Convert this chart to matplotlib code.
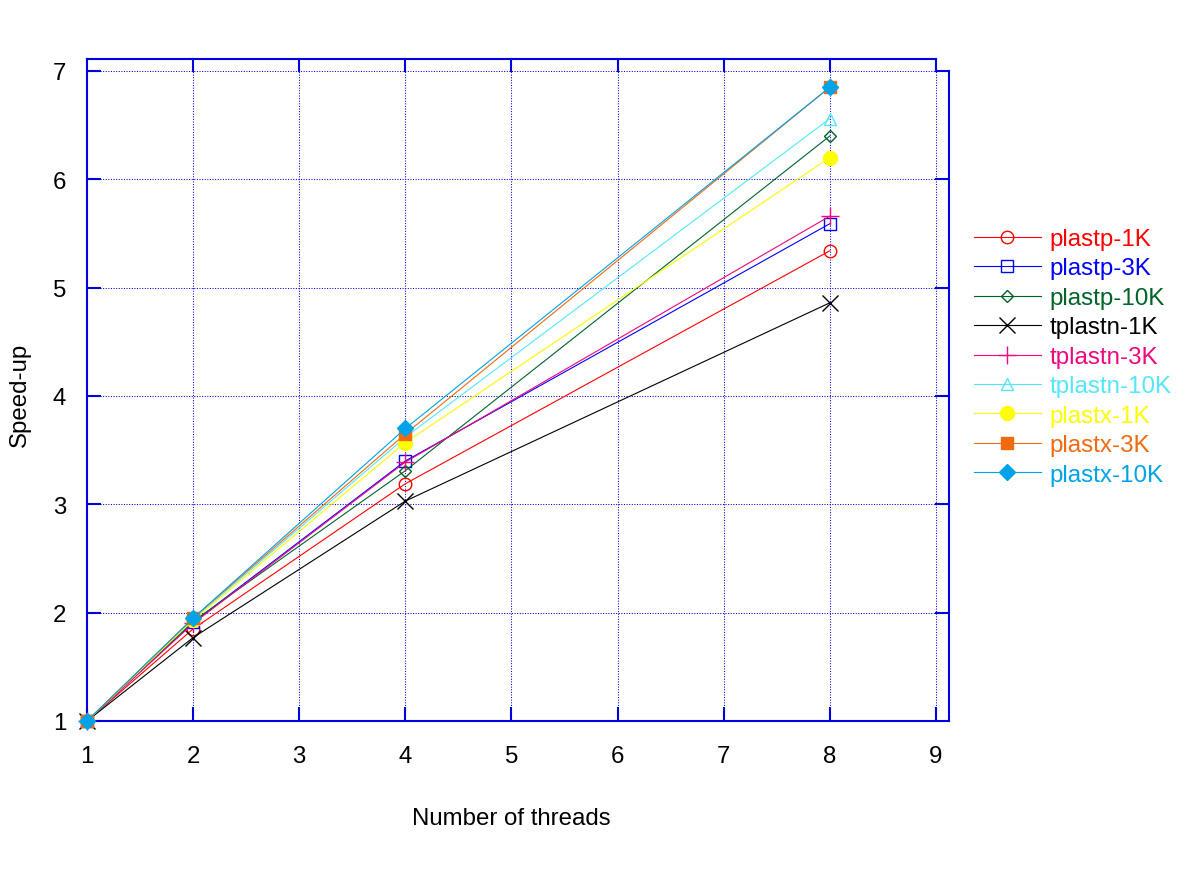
import matplotlib
matplotlib.use("Agg")
from matplotlib import pyplot as plt

plt.rcParams["font.family"] = ["Liberation Sans", "DejaVu Sans"]

threads = [1, 2, 4, 8]

series_names = [
    "plastp-1K", "plastp-3K", "plastp-10K",
    "tplastn-1K", "tplastn-3K", "tplastn-10K",
    "plastx-1K", "plastx-3K", "plastx-10K",
]
plastp_1k = [1.0, 1.85, 3.19, 5.34]
plastp_3k = [1.0, 1.91, 3.40, 5.59]
plastp_10k = [1.0, 1.92, 3.31, 6.40]
tplastn_1k = [1.0, 1.77, 3.03, 4.86]
tplastn_3k = [1.0, 1.90, 3.39, 5.66]
tplastn_10k = [1.0, 1.94, 3.62, 6.56]
plastx_1k = [1.0, 1.93, 3.57, 6.20]
plastx_3k = [1.0, 1.95, 3.65, 6.85]
plastx_10k = [1.0, 1.95, 3.70, 6.85]
all_values = [plastp_1k, plastp_3k, plastp_10k, tplastn_1k, tplastn_3k,
              tplastn_10k, plastx_1k, plastx_3k, plastx_10k]

x_ticks = [1, 2, 3, 4, 5, 6, 7, 8, 9]
y_ticks = [1, 2, 3, 4, 5, 6, 7]

colors = ["#ff0000", "#0000ff", "#006428", "#000000", "#f0067f",
          "#55e6ff", "#ffff00", "#f26a10", "#00a2e8"]
markers = ["o", "s", "D", "x", "+", "^", "o", "s", "D"]
filled = [False, False, False, True, True, False, True, True, True]
sizes = [9, 9, 6, 11, 13, 9, 10, 9, 8]

frame = "#0000e0"

fig = plt.figure(figsize=(11.9, 8.7), dpi=100)
ax = fig.add_axes([87 / 1190, 1 - 722 / 870, 862 / 1190, 662 / 870])

for name, vals, c, m, f, s in zip(series_names, all_values, colors, markers, filled, sizes):
    ax.plot(threads, vals, color=c, linewidth=0.8, marker=m, markersize=s,
            markerfacecolor=c if f else "none", markeredgecolor=c,
            markeredgewidth=1.0, label=name, zorder=3, clip_on=False)

ax.set_xlim(1, 9.1225)
ax.set_ylim(1, 7.11)
ax.set_xticks(x_ticks)
ax.set_yticks(y_ticks)
ax.grid(True, color=frame, linestyle=(0, (1, 1.5)), linewidth=0.75)
ax.tick_params(direction="in", length=10, color=frame, width=1.5, labelsize=17.3)
ax.tick_params(axis="x", pad=17)
ax.tick_params(axis="y", pad=15)

for side in ["top", "right"]:
    ax.spines[side].set_visible(False)
for side in ["left", "bottom"]:
    ax.spines[side].set_color(frame)
    ax.spines[side].set_linewidth(1.5)

# pseudo-3D frame: back top edge and notched right edge
top = 7.11
ax.plot([1, 9], [top, top], color=frame, lw=1.5, clip_on=False, zorder=4)
ax.plot([9, 9], [7, top], color=frame, lw=1.5, clip_on=False, zorder=4)
ax.plot([9, 9.1225], [7, 7], color=frame, lw=1.5, clip_on=False, zorder=4)
ax.plot([9.1225, 9.1225], [1, 7], color=frame, lw=1.5, clip_on=False, zorder=4)
for xt in x_ticks[1:-1]:
    ax.plot([xt, xt], [top - 0.11, top], color=frame, lw=1.5, clip_on=False, zorder=4)
for yt in y_ticks[1:-1]:
    ax.plot([9, 9.1225], [yt, yt], color=frame, lw=1.5, clip_on=False, zorder=4)

fig.text(511 / 1190, 1 - 819 / 870, "Number of threads", ha="center", va="center",
         fontsize=17.3)
fig.text(20 / 1190, 1 - 395 / 870, "Speed-up", ha="center", va="center",
         rotation=90, fontsize=17.3)

leg = fig.legend(loc="upper left", bbox_to_anchor=(974 / 1190, 1 - 229 / 870),
                 frameon=False, fontsize=17.4, handlelength=2.77, handletextpad=0.37,
                 labelspacing=0.31, borderaxespad=0, borderpad=0,
                 labelcolor="linecolor")

fig.savefig("out.png", dpi=100)
